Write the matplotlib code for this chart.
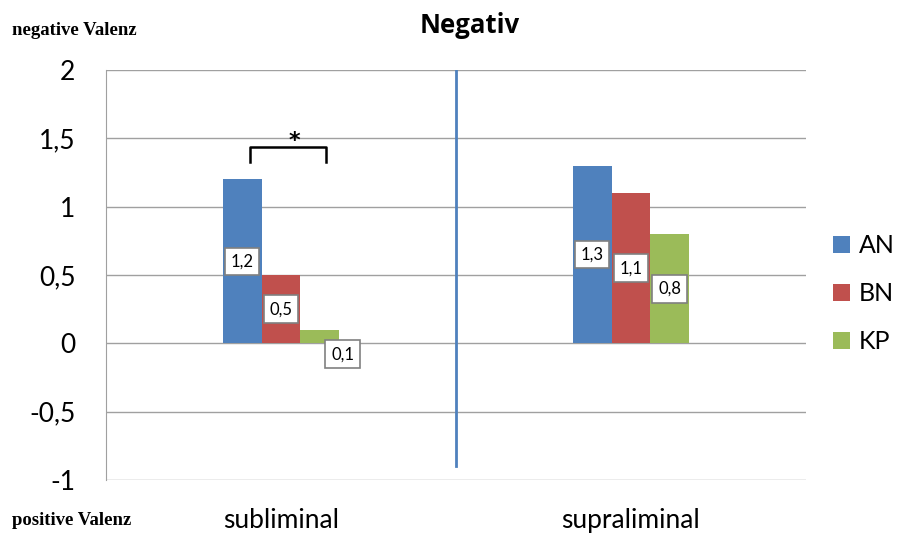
import matplotlib.pyplot as plt
import numpy as np

# data
categories = ['subliminal', 'supraliminal']
series = ['AN', 'BN', 'KP']
an_values = [1.2, 1.3]
bn_values = [0.5, 1.1]
kp_values = [0.1, 0.8]
colors = ['#4F81BD', '#C0504D', '#9BBB59']
yticks = [-1, -0.5, 0, 0.5, 1, 1.5, 2]
ytick_labels = ['-1', '-0,5', '0', '0,5', '1', '1,5', '2']

fig = plt.figure(figsize=(8.98, 5.34), dpi=100)
ax = fig.add_axes([0.118, 0.1011, 0.7795, 0.7678])

x = np.arange(len(categories))
width = 0.111
all_values = [an_values, bn_values, kp_values]
for i, (name, vals) in enumerate(zip(series, all_values)):
    pos = x + (i - 1) * width
    ax.bar(pos, vals, width, color=colors[i], label=name, zorder=3)
    for j, v in enumerate(vals):
        lx = pos[j]
        ly = v / 2
        # the small KP bar gets its label pushed below / right
        if v < 0.2:
            lx = pos[j] + 0.065
            ly = -0.08
        ax.text(lx, ly, f'{v:.1f}'.replace('.', ','), ha='center', va='center',
                fontsize=12, family='Lato', zorder=5,
                bbox=dict(boxstyle='square,pad=0.35', fc='white', ec='#808080', lw=1.2))

ax.set_xlim(-0.5, 1.5)
ax.set_ylim(-1, 2)
ax.set_yticks(yticks)
ax.set_yticklabels(ytick_labels, fontsize=19, family='Lato')
ax.set_xticks(x)
ax.set_xticklabels(categories, fontsize=19, family='Lato')
ax.tick_params(axis='y', length=0, pad=22)
ax.tick_params(axis='x', length=0, pad=20)
ax.grid(axis='y', color='#A0A0A0', lw=1, zorder=0)
for s in ['top', 'right', 'bottom']:
    ax.spines[s].set_visible(False)
ax.spines['left'].set_color('#A0A0A0')

# separator between conditions
ax.plot([0.5, 0.5], [-0.9, 2], color='#4F81BD', lw=2, zorder=4)

# significance bracket
ax.plot([-0.089, -0.089, 0.129, 0.129], [1.33, 1.434, 1.434, 1.33], color='black', lw=1.8, zorder=4)
ax.text(0.037, 1.41, '*', ha='center', va='bottom', fontsize=16, fontweight='bold')

fig.text(0.523, 0.953, 'Negativ', ha='center', va='center', fontsize=18.5,
         fontweight='bold', family='Open Sans')
fig.text(0.013, 0.943, 'negative Valenz', ha='left', va='center', fontsize=13.5,
         fontweight='bold', family='Liberation Serif')
fig.text(0.013, 0.026, 'positive Valenz', ha='left', va='center', fontsize=13.5,
         fontweight='bold', family='Liberation Serif')

leg = ax.legend(loc='center left', bbox_to_anchor=(1.038, 0.454), frameon=False,
                prop={'family': 'Lato', 'size': 18}, handlelength=0.7, handleheight=0.7,
                labelspacing=1.0, handletextpad=0.35, borderpad=0, borderaxespad=0)

fig.savefig('out.png', dpi=100)
